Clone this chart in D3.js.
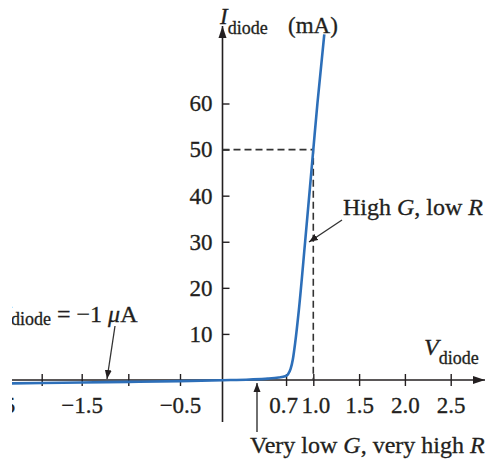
<!DOCTYPE html>
<html>
<head>
<meta charset="utf-8">
<script src="https://cdn.jsdelivr.net/npm/d3@7"></script>
<style>
  body { margin: 0; background: #fff; }
  text { font-family: "Liberation Serif", "Times New Roman", serif; fill: #231f20; stroke: #231f20; stroke-width: 0.3px; }
</style>
</head>
<body>
<svg id="chart" width="490" height="460"></svg>
<script>
// diode I-V curve (schematic, mA)
var voltage = [-2.35, -2.0, -1.5, -1.0, -0.5, 0.0, 0.3, 0.5, 0.62, 0.69, 0.72, 0.75, 0.775, 0.80, 0.84, 0.91, 1.0, 1.045, 1.12];
var current = [-0.75, -0.65, -0.55, -0.4, -0.25, -0.05, 0.1, 0.3, 0.55, 0.8, 1.2, 2.4, 4.5, 8, 15, 30, 50, 60, 75];

var xTicks = [-2.5, -2.0, -1.5, -1.0, -0.5, 0.7, 1.0, 1.5, 2.0, 2.5];
var xTickLabels = ["\u22122.5", "", "\u22121.5", "", "\u22120.5", "0.7", "1.0", "1.5", "2.0", "2.5"];
var yTicks = [10, 20, 30, 40, 50, 60];
var yTickLabels = ["10", "20", "30", "40", "50", "60"];

var svg = d3.select("#chart");
var ink = "#231f20";
var blue = "#2d6fb9";

// the figure's voltage axis is not evenly spaced on the negative side
var x = d3.scaleLinear()
    .domain([-2.5, -2.0, -1.5, -1.0, -0.5, 0, 1, 2.5])
    .range([-6, 41.7, 81.7, 128.3, 180, 222.5, 313.3, 450.7]);
var y = d3.scaleLinear().domain([0, 60]).range([380, 103.5]);

// arrow heads
var defs = svg.append("defs");
defs.append("marker")
    .attr("id", "axisHead")
    .attr("markerUnits", "userSpaceOnUse")
    .attr("viewBox", "0 -5 12 10")
    .attr("refX", 12).attr("refY", 0)
    .attr("markerWidth", 12).attr("markerHeight", 10)
    .attr("orient", "auto")
    .append("path").attr("d", "M0,-4L12,0L0,4Z").attr("fill", ink);
defs.append("marker")
    .attr("id", "noteHead")
    .attr("markerUnits", "userSpaceOnUse")
    .attr("viewBox", "0 -4 9 8")
    .attr("refX", 9).attr("refY", 0)
    .attr("markerWidth", 9).attr("markerHeight", 8)
    .attr("orient", "auto")
    .append("path").attr("d", "M0,-3.5L9,0L0,3.5Z").attr("fill", ink);

// picture is cropped on the left side
defs.append("clipPath").attr("id", "crop")
    .append("rect").attr("x", 12).attr("y", 0).attr("width", 478).attr("height", 460);

var g = svg.append("g").attr("clip-path", "url(#crop)");

// axes lines
g.append("line")
    .attr("x1", 0).attr("y1", y(0)).attr("x2", 485).attr("y2", y(0))
    .attr("stroke", ink).attr("stroke-width", 1.6)
    .attr("marker-end", "url(#axisHead)");
g.append("line")
    .attr("x1", x(0)).attr("y1", 422).attr("x2", x(0)).attr("y2", 26)
    .attr("stroke", ink).attr("stroke-width", 1.6)
    .attr("marker-end", "url(#axisHead)");

// x axis ticks
var xAxis = d3.axisBottom(x)
    .tickValues(xTicks)
    .tickSizeInner(6).tickSizeOuter(0).tickPadding(11)
    .tickFormat(function (d, i) { return xTickLabels[i]; });
var xg = g.append("g").attr("transform", "translate(0," + y(0) + ")").call(xAxis);
xg.select(".domain").remove();
xg.selectAll(".tick line").attr("y1", -6).attr("stroke", ink).attr("stroke-width", 1.4);
xg.selectAll(".tick text")
    .attr("font-family", "Liberation Serif").attr("font-size", 23).attr("fill", ink);
// 0.7 and 1.0 labels sit close together in the figure
xg.selectAll(".tick text").filter(function (d) { return d === 0.7; }).attr("dx", -3);
xg.selectAll(".tick text").filter(function (d) { return d === 1.0; }).attr("dx", 2);

// y axis ticks
var yAxis = d3.axisLeft(y)
    .tickValues(yTicks)
    .tickSizeInner(7).tickSizeOuter(0).tickPadding(3)
    .tickFormat(function (d, i) { return yTickLabels[i]; });
var yg = g.append("g").attr("transform", "translate(" + x(0) + ",0)").call(yAxis);
yg.select(".domain").remove();
yg.selectAll(".tick line").attr("x2", 7).attr("stroke", ink).attr("stroke-width", 1.4);
yg.selectAll(".tick text")
    .attr("font-family", "Liberation Serif").attr("font-size", 23).attr("fill", ink);

// dashed guide at 1.0 V / 50 mA
g.append("path")
    .attr("d", "M" + x(0) + "," + y(50) + "H" + x(1.0) + "V" + y(0))
    .attr("fill", "none").attr("stroke", "#333").attr("stroke-width", 1.6)
    .attr("stroke-dasharray", "7,4");

// the curve
var pts = voltage.map(function (v, i) { return [v, current[i]]; });
var line = d3.line()
    .x(function (d) { return x(d[0]); })
    .y(function (d) { return y(d[1]); })
    .curve(d3.curveMonotoneX);
g.append("path")
    .datum(pts)
    .attr("d", line)
    .attr("fill", "none")
    .attr("stroke", blue)
    .attr("stroke-width", 2.6)
    .attr("stroke-linejoin", "round");

// axis titles
var yl = g.append("text").attr("x", 220).attr("y", 24).attr("font-size", 23);
yl.append("tspan").attr("font-style", "italic").text("I");
yl.append("tspan").attr("font-size", 18).attr("dy", 10).text("diode");
g.append("text").attr("x", 288).attr("y", 33).attr("font-size", 23).text("(mA)");

var xl = g.append("text").attr("x", 424).attr("y", 355).attr("font-size", 24);
xl.append("tspan").attr("font-style", "italic").text("V");
xl.append("tspan").attr("font-size", 18).attr("dy", 9).text("diode");

// annotations
var a1 = g.append("text").attr("x", 3).attr("y", 322).attr("font-size", 24);
a1.append("tspan").attr("font-style", "italic").text("I");
a1.append("tspan").attr("font-size", 18).attr("dy", 3).text("diode");
a1.append("tspan").attr("dy", -3).text(" = \u22121 ");
a1.append("tspan").attr("font-style", "italic").text("\u03bc");
a1.append("tspan").text("A");
g.append("line")
    .attr("x1", 115).attr("y1", 326).attr("x2", 107).attr("y2", 379)
    .attr("stroke", "#333").attr("stroke-width", 1.3)
    .attr("marker-end", "url(#noteHead)");

var a2 = g.append("text").attr("x", 343).attr("y", 215).attr("font-size", 24);
a2.append("tspan").text("High ");
a2.append("tspan").attr("font-style", "italic").text("G");
a2.append("tspan").text(", low ");
a2.append("tspan").attr("font-style", "italic").text("R");
g.append("line")
    .attr("x1", 342).attr("y1", 220).attr("x2", 309).attr("y2", 242)
    .attr("stroke", "#333").attr("stroke-width", 1.3)
    .attr("marker-end", "url(#noteHead)");

var a3 = g.append("text").attr("x", 250).attr("y", 453).attr("font-size", 24);
a3.append("tspan").text("Very low ");
a3.append("tspan").attr("font-style", "italic").text("G");
a3.append("tspan").text(", very high ");
a3.append("tspan").attr("font-style", "italic").text("R");
g.append("line")
    .attr("x1", 257).attr("y1", 432).attr("x2", 257).attr("y2", 383)
    .attr("stroke", "#333").attr("stroke-width", 1.4)
    .attr("marker-end", "url(#noteHead)");
</script>
</body>
</html>
